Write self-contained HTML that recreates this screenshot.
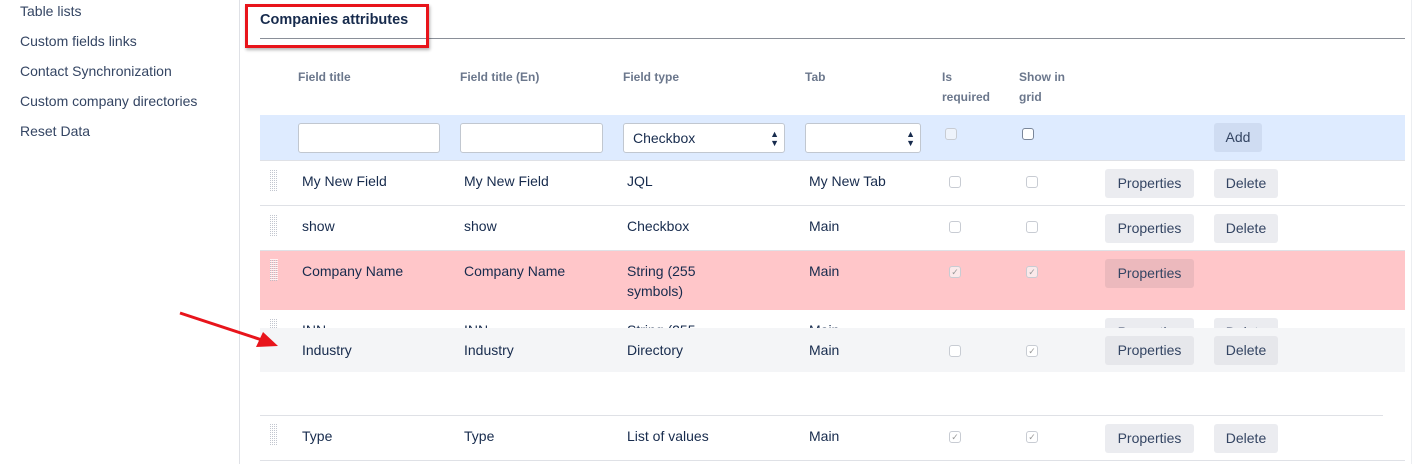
<!DOCTYPE html>
<html><head><style>
*{box-sizing:border-box;margin:0;padding:0}
body{width:1427px;height:464px;overflow:hidden;background:#fff;font-family:"Liberation Sans",sans-serif;font-size:14px;color:#172b4d;position:relative}
.a{position:absolute;white-space:nowrap}
.side{left:20px;color:#344563;font-size:14px}
.h{font-size:12px;font-weight:bold;color:#6b778c}
.inp{position:absolute;background:#fff;border:1px solid #c1c7d0;border-radius:3px;height:30px;top:123px}
.btn{position:absolute;background:#ebecf0;border-radius:3px;height:29px;color:#344563;font-size:14px;text-align:center;line-height:29px}
.cb{position:absolute;width:12px;height:12px;border:1px solid #c8ccd3;border-radius:3px;background:#fff}
.line{position:absolute;height:1px;background:#dfe1e6;left:260px;width:1145px}
.grip{position:absolute;left:270px;width:8px;height:22px;background-image:linear-gradient(90deg,#b3b9c4 1px,transparent 1px),linear-gradient(#fff 1px,transparent 1px);background-size:2px 2px,2px 2px;background-image:linear-gradient(#fff 50%,transparent 50%),linear-gradient(90deg,#b3b9c4 50%,transparent 50%);background-blend-mode:normal;opacity:.8}
.ck{font-size:9px;color:#999;text-align:center;line-height:10px}
</style></head><body>
<div class="a" style="left:239px;top:0;width:1px;height:464px;background:#dfe1e6"></div>
<div class="a" style="left:1411px;top:0;width:1px;height:464px;background:#eceef1"></div>
<div class="a side" style="top:3px">Table lists</div>
<div class="a side" style="top:33px">Custom fields links</div>
<div class="a side" style="top:63px">Contact Synchronization</div>
<div class="a side" style="top:93px">Custom company directories</div>
<div class="a side" style="top:123px">Reset Data</div>

<div class="a" style="left:260px;top:12px;font-weight:bold;font-size:14.5px;color:#172b4d">Companies attributes</div>
<div class="a" style="left:260px;top:38px;width:1145px;height:1px;background:#8a8f98"></div>
<div class="a" style="left:245px;top:4px;width:184px;height:44px;border:3px solid #e8141b;box-shadow:1px 2px 3px rgba(0,0,0,.3)"></div>

<div class="a h" style="left:298px;top:70px">Field title</div>
<div class="a h" style="left:460px;top:70px">Field title (En)</div>
<div class="a h" style="left:623px;top:70px">Field type</div>
<div class="a h" style="left:805px;top:70px">Tab</div>
<div class="a h" style="left:942px;top:67px;line-height:20px">Is<br>required</div>
<div class="a h" style="left:1019px;top:67px;line-height:20px">Show in<br>grid</div>

<div class="a" style="left:260px;top:115px;width:1145px;height:45px;background:#deebff"></div>
<div class="inp" style="left:298px;width:142px"></div>
<div class="inp" style="left:460px;width:143px"></div>
<div class="inp" style="left:623px;width:162px;padding-left:9px;line-height:28px">Checkbox<span style="position:absolute;right:5px;font-size:9px;line-height:9px;top:6px">▲<br>▼</span></div>
<div class="inp" style="left:805px;width:116px"><span style="position:absolute;right:5px;font-size:9px;line-height:9px;top:6px">▲<br>▼</span></div>
<div class="cb" style="left:945px;top:128px;background:#eef3fb"></div>
<div class="cb" style="left:1022px;top:128px;border-color:#7a869a"></div>
<div class="btn" style="left:1214px;top:123px;width:48px;background:#cfdcf2">Add</div>

<div class="line" style="top:160px"></div>
<div class="grip" style="top:169px"></div>
<div class="a" style="left:302px;top:173px">My New Field</div>
<div class="a" style="left:464px;top:173px">My New Field</div>
<div class="a" style="left:627px;top:173px">JQL</div>
<div class="a" style="left:809px;top:173px">My New Tab</div>
<div class="cb" style="left:949px;top:176px"></div>
<div class="cb" style="left:1026px;top:176px"></div>
<div class="btn" style="left:1105px;top:169px;width:89px">Properties</div>
<div class="btn" style="left:1214px;top:169px;width:64px">Delete</div>

<div class="line" style="top:205px"></div>
<div class="grip" style="top:214px"></div>
<div class="a" style="left:302px;top:218px">show</div>
<div class="a" style="left:464px;top:218px">show</div>
<div class="a" style="left:627px;top:218px">Checkbox</div>
<div class="a" style="left:809px;top:218px">Main</div>
<div class="cb" style="left:949px;top:221px"></div>
<div class="cb" style="left:1026px;top:221px"></div>
<div class="btn" style="left:1105px;top:214px;width:89px">Properties</div>
<div class="btn" style="left:1214px;top:214px;width:64px">Delete</div>

<div class="line" style="top:250px"></div>
<div class="a" style="left:260px;top:251px;width:1145px;height:59px;background:#ffc6c9"></div>
<div class="grip" style="top:259px"></div>
<div class="a" style="left:302px;top:263px">Company Name</div>
<div class="a" style="left:464px;top:263px">Company Name</div>
<div class="a" style="left:627px;top:261px;line-height:20px">String (255<br>symbols)</div>
<div class="a" style="left:809px;top:263px">Main</div>
<div class="cb ck" style="left:949px;top:266px;background:#fbe9ea">✓</div>
<div class="cb ck" style="left:1026px;top:266px;background:#fbe9ea">✓</div>
<div class="btn" style="left:1105px;top:259px;width:89px;background:#ecb9bd">Properties</div>

<div class="a" style="left:260px;top:310px;width:1145px;height:18px;overflow:hidden">
<div class="grip" style="left:10px;top:8px"></div>
<div class="a" style="left:42px;top:12px">INN</div>
<div class="a" style="left:204px;top:12px">INN</div>
<div class="a" style="left:367px;top:12px">String (255</div>
<div class="a" style="left:549px;top:12px">Main</div>
<div class="btn" style="left:845px;top:8px;width:89px">Properties</div>
<div class="btn" style="left:954px;top:8px;width:64px">Delete</div>
</div>
<div class="a" style="left:260px;top:328px;width:1145px;height:44px;background:#f4f5f7"></div>
<div class="a" style="left:302px;top:342px">Industry</div>
<div class="a" style="left:464px;top:342px">Industry</div>
<div class="a" style="left:627px;top:342px">Directory</div>
<div class="a" style="left:809px;top:342px">Main</div>
<div class="cb" style="left:949px;top:345px"></div>
<div class="cb ck" style="left:1026px;top:345px">✓</div>
<div class="btn" style="left:1105px;top:336px;width:89px;background:#e6e7eb">Properties</div>
<div class="btn" style="left:1214px;top:336px;width:64px;background:#e6e7eb">Delete</div>

<div class="line" style="top:415px;width:1123px"></div>
<div class="grip" style="top:423px"></div>
<div class="a" style="left:302px;top:428px">Type</div>
<div class="a" style="left:464px;top:428px">Type</div>
<div class="a" style="left:627px;top:428px">List of values</div>
<div class="a" style="left:809px;top:428px">Main</div>
<div class="cb ck" style="left:949px;top:431px">✓</div>
<div class="cb ck" style="left:1026px;top:431px">✓</div>
<div class="btn" style="left:1105px;top:424px;width:89px">Properties</div>
<div class="btn" style="left:1214px;top:424px;width:64px">Delete</div>
<div class="line" style="top:460px"></div>

<svg class="a" style="left:0;top:0" width="1427" height="464">
<line x1="180" y1="313" x2="262" y2="340" stroke="#e8141b" stroke-width="3"/>
<polygon points="278,346 256,347 263,332" fill="#e8141b"/>
</svg>
</body></html>
